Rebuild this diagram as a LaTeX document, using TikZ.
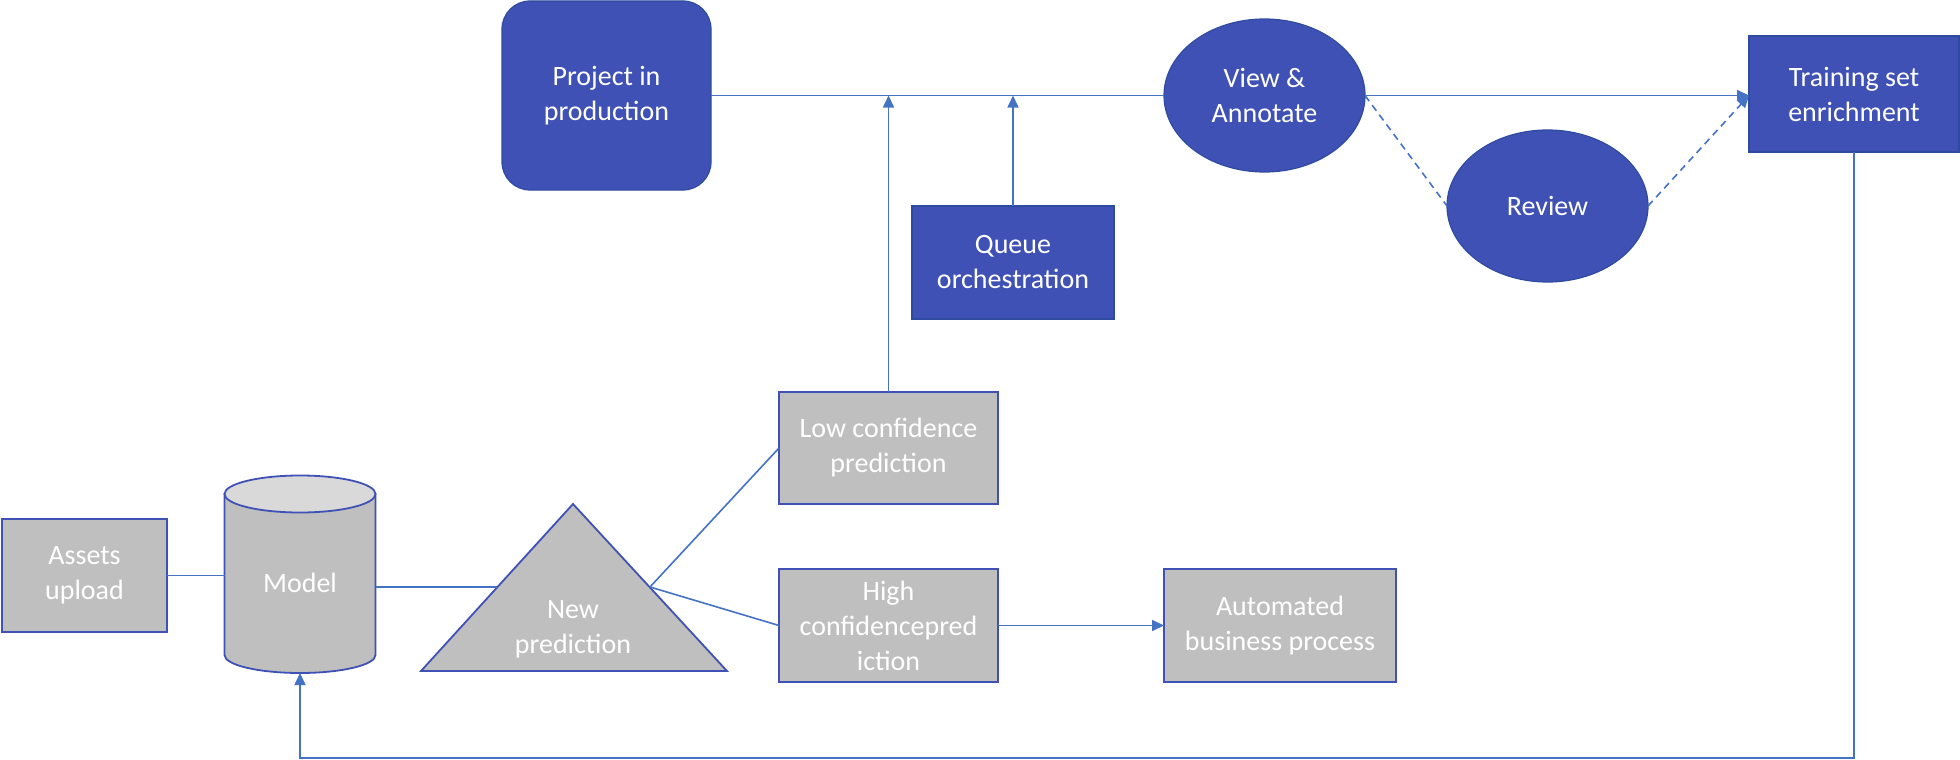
\documentclass[tikz,border=0pt]{standalone}
\usepackage{fontspec}
\setmainfont{Carlito}
\usetikzlibrary{shapes.geometric,arrows.meta,calc}
\definecolor{bluefill}{RGB}{63,81,181}
\definecolor{blueedge}{RGB}{47,75,160}
\definecolor{grayfill}{RGB}{191,191,191}
\definecolor{capfill}{RGB}{217,217,217}
\definecolor{linkblue}{RGB}{68,114,196}
\tikzset{
  lbl/.style={text=white, align=center, font=\fontsize{28}{35}\selectfont, inner sep=0pt, outer sep=0pt},
  bluebox/.style={lbl, rectangle, fill=bluefill, draw=blueedge, line width=1.2pt},
  grayrect/.style={lbl, rectangle, fill=grayfill, draw=bluefill, line width=1.8pt},
  blueell/.style={lbl, ellipse, fill=bluefill, draw=blueedge, line width=1.2pt},
  link/.style={draw=linkblue, line width=1.6pt},
  arr/.style={link, -{Triangle[length=12pt,width=11pt]}},
  dlink/.style={link, dash pattern=on 7pt off 5pt},
}
\begin{document}
\begin{tikzpicture}[x=1pt,y=-1pt]
\useasboundingbox (0,0) rectangle (1960,760);

% blue nodes
\node[bluebox, rounded corners=28pt, minimum width=209pt, minimum height=189pt] (proj) at (606.5,95.5) {Project in\\production};
\node[blueell, minimum width=201pt, minimum height=153pt] (view) at (1264.5,95.5) {View \&\\Annotate};
\node[blueell, minimum width=201pt, minimum height=152pt] (review) at (1547.5,206) {Review};
\node[bluebox, minimum width=210pt, minimum height=116pt] (train) at (1854,94) {Training set\\enrichment};
\node[bluebox, minimum width=202pt, minimum height=113pt] (queue) at (1013,262.5) {Queue\\orchestration};

% gray nodes
\node[grayrect, minimum width=219pt, minimum height=112pt] (low) at (888.5,448) {Low confidence\\prediction};
\node[grayrect, minimum width=219pt, minimum height=113pt] (high) at (888.5,625.5) {High\\confidencepred\\iction};
\node[grayrect, minimum width=232pt, minimum height=113pt] (auto) at (1280,625.5) {Automated\\business process};
\node[grayrect, minimum width=165pt, minimum height=113pt] (assets) at (84.5,575.5) {Assets\\upload};

% cylinder (Model)
\filldraw[fill=grayfill, draw=bluefill, line width=1.8pt]
  (224.5,494) -- (224.5,655) arc[start angle=180, end angle=0, x radius=75.5, y radius=18] -- (375.5,494) -- cycle;
\filldraw[fill=capfill, draw=bluefill, line width=1.8pt] (300,494) ellipse[x radius=75.5, y radius=18.5];
\node[lbl, rectangle, minimum width=151pt, minimum height=198pt] (model) at (300,574) {};
\node[lbl] (modeltext) at (300,583) {Model};

% triangle (New prediction)
\coordinate (triA) at (573,504);
\coordinate (triB) at (727,671);
\coordinate (triC) at (421,671);
\filldraw[fill=grayfill, draw=bluefill, line width=1.8pt, line join=miter] (triA) -- (triB) -- (triC) -- cycle;
\node[lbl] (newpred) at (573,629) {New\\prediction};
\coordinate (triL) at (496.5,587);
\coordinate (triR) at (650,587);

% connectors
\draw[link] (assets.east) -- (assets.east -| model.west);
\draw[link] (triL -| model.east) -- (triL);
\draw[link] (triR) -- (low.west);
\draw[link] (triR) -- (high.west);
\draw[arr] (high.east) -- (auto.west);
\draw[link] (proj.east) -- (view.west);
\draw[arr] (low.north) -- (low.north |- proj.east);
\draw[arr] (queue.north) -- (queue.north |- proj.east);
\draw[arr] (view.east) -- (view.east -| train.west);
\draw[dlink] (view.east) -- (review.west);
\draw[dlink, -{Triangle[length=12pt,width=11pt]}] (review.east) -- (view.east -| train.west);
\coordinate (bottom) at (1854,758);
\draw[arr] (train.south) -- (bottom) -| (model.south);
\end{tikzpicture}
\end{document}
